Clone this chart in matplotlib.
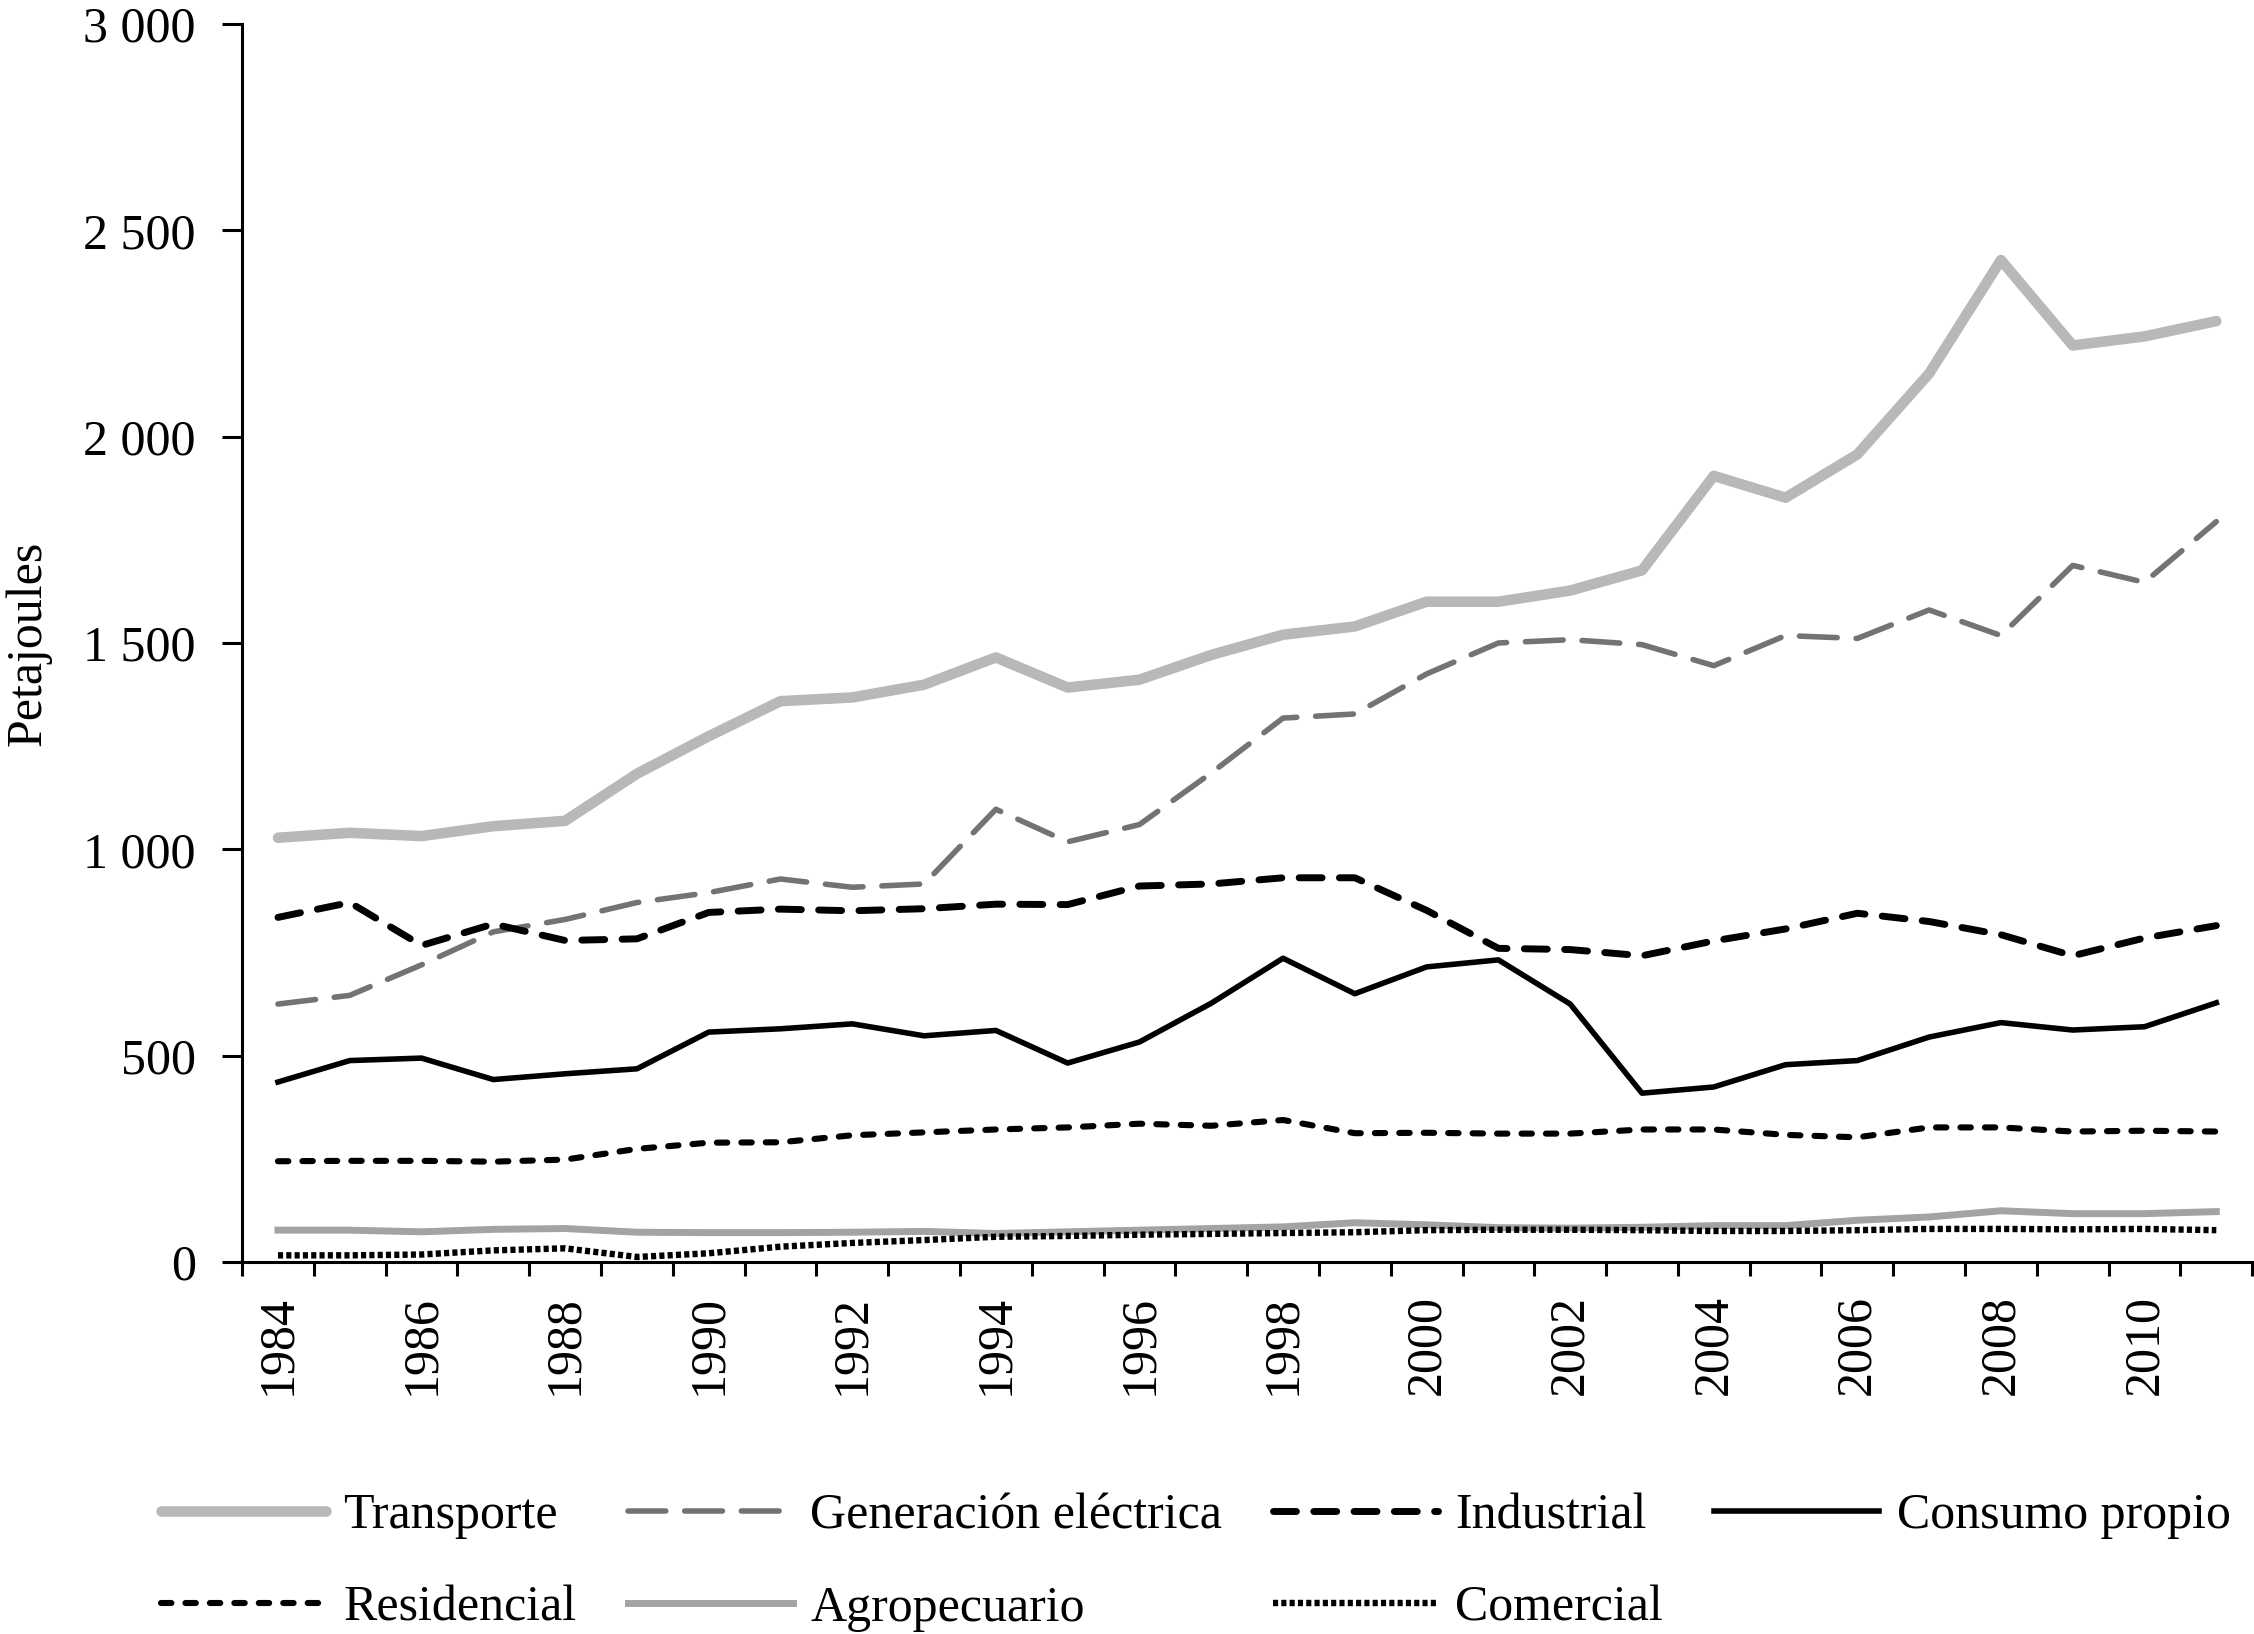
import matplotlib
matplotlib.use("Agg")
import matplotlib.pyplot as plt
import numpy as np

# datos (petajoules)
years = list(range(1984, 2012))
transporte = [1028, 1040, 1032, 1056, 1069, 1183, 1274, 1359, 1368, 1399, 1465, 1392, 1411, 1471,
              1520, 1540, 1600, 1600, 1627, 1676, 1905, 1852, 1957, 2153, 2428, 2221, 2243, 2280]
generacion = [625, 646, 720, 800, 830, 871, 895, 928, 908, 916, 1097, 1018, 1060, 1185,
              1318, 1328, 1425, 1500, 1508, 1496, 1445, 1518, 1511, 1580, 1518, 1688, 1647, 1794]
industrial = [835, 871, 767, 819, 779, 783, 847, 855, 851, 856, 867, 866, 911, 916,
              931, 931, 852, 760, 757, 742, 778, 807, 845, 825, 793, 742, 785, 815]
consumo = [436, 488, 494, 442, 456, 468, 557, 565, 577, 548, 561, 482, 533, 627,
           736, 650, 715, 732, 625, 409, 424, 478, 488, 545, 580, 562, 570, 628]
residencial = [244, 245, 245, 243, 248, 274, 289, 290, 307, 314, 321, 326, 335, 330,
               344, 312, 313, 311, 311, 321, 321, 308, 302, 326, 326, 316, 318, 316]
agropecuario = [77, 77, 73, 79, 81, 72, 71, 71, 72, 74, 69, 73, 77, 81,
                85, 95, 90, 83, 82, 84, 88, 88, 101, 109, 124, 117, 117, 122]
comercial = [16, 16, 18, 28, 33, 12, 21, 37, 46, 53, 61, 63, 66, 68,
             70, 72, 77, 78, 78, 77, 75, 75, 77, 80, 80, 79, 80, 77]

ytick_vals = [0, 500, 1000, 1500, 2000, 2500, 3000]
ytick_labels = ["0", "500", "1 000", "1 500", "2 000", "2 500", "3 000"]

plt.rcParams['font.family'] = ['Liberation Serif', 'DejaVu Serif']
plt.rcParams['font.size'] = 36

fig = plt.figure(figsize=(22.54, 16.34), dpi=100)
ax = fig.add_axes([0.1074, 0.2277, 0.8918, 0.7576])

x = np.arange(len(years))

l_tr, = ax.plot(x, transporte, color='#b8b8b8', lw=7.6, solid_capstyle='round', solid_joinstyle='round')
l_ge, = ax.plot(x, generacion, color='#737373', lw=4.0, linestyle=(0, (6.8, 3.4)),
                dash_capstyle='round', dash_joinstyle='round')
l_in, = ax.plot(x, industrial, color='black', lw=5.0, linestyle=(0, (3.3, 2.5)),
                dash_capstyle='round', dash_joinstyle='round')
l_co, = ax.plot(x, consumo, color='black', lw=4.0, solid_joinstyle='round')
l_re, = ax.plot(x, residencial, color='black', lw=4.4, linestyle=(0, (1.7, 2.3)),
                dash_capstyle='round')
l_ag, = ax.plot(x, agropecuario, color='#a3a3a3', lw=5.0, solid_joinstyle='round')
l_cm, = ax.plot(x, comercial, color='black', lw=4.6, linestyle=(0, (0.8, 0.5)))

ax.set_xlim(-0.5, len(years) - 0.5)
ax.set_ylim(0, 3000)

ax.spines['top'].set_visible(False)
ax.spines['right'].set_visible(False)
ax.spines['left'].set_linewidth(2.2)
ax.spines['bottom'].set_linewidth(2.2)

ax.set_yticks(ytick_vals)
ax.set_yticklabels(ytick_labels)
ax.tick_params(axis='y', length=14.4, width=2.2, pad=19, direction='out')

# ticks entre categorias, etiquetas cada dos años
ax.set_xticks(np.arange(-0.5, len(years), 1.0))
ax.set_xticklabels([])
ax.tick_params(axis='x', which='major', length=10, width=2.2, direction='out')
ax.set_xticks(x[::2], minor=True)
ax.set_xticklabels([str(y) for y in years[::2]], minor=True, rotation=90)
ax.tick_params(axis='x', which='minor', length=0, pad=24)

ax.set_ylabel("Petajoules")
ax.yaxis.set_label_coords(-0.095, 0.5)

handles = [l_tr, l_re, l_ge, l_ag, l_in, l_cm, l_co]
labels = ["Transporte", "Residencial", "Generación eléctrica", "Agropecuario",
          "Industrial", "Comercial", "Consumo propio"]
fig.legend(handles, labels, ncol=4, loc='center left', bbox_to_anchor=(0.0714, 0.0438),
           frameon=False, borderpad=0, borderaxespad=0, handlelength=3.3,
           handletextpad=0.35, columnspacing=1.02, labelspacing=0.92)

fig.savefig("out.png", dpi=100)
